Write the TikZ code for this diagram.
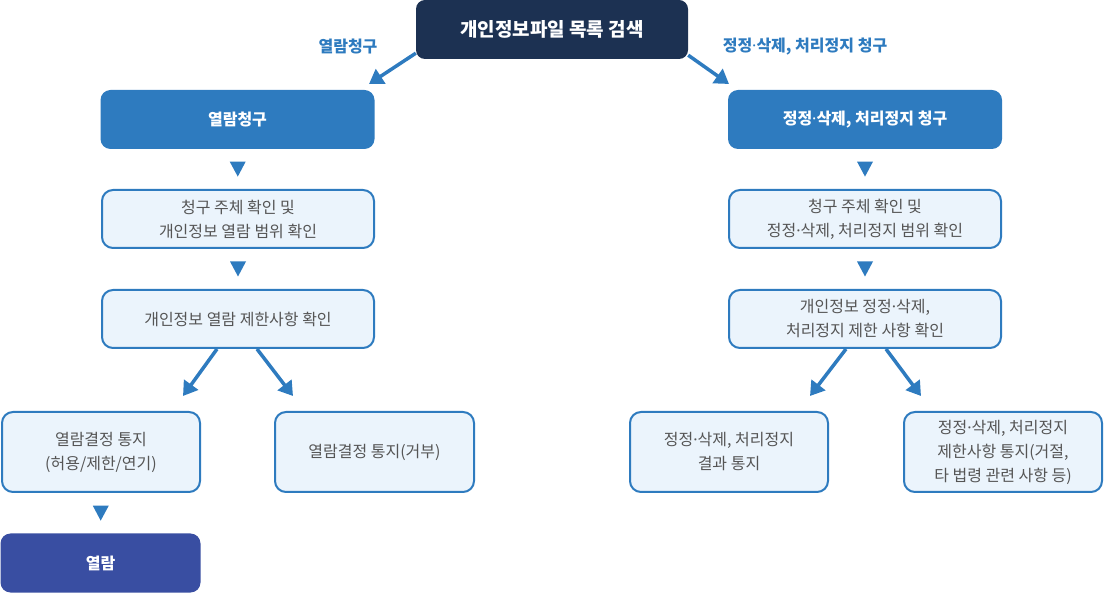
\documentclass[tikz,border=0pt]{standalone}
\usepackage{fontspec}
\setmainfont{Noto Sans CJK KR}
\newfontfamily\latinfont{Noto Sans}
\newcommand{\middot}{{\latinfont ·}}
\usetikzlibrary{arrows.meta,decorations.markings}
\definecolor{navy}{HTML}{1C3152}
\definecolor{stepblue}{HTML}{2E7BBF}
\definecolor{paleblue}{HTML}{EBF4FC}
\definecolor{deepblue}{HTML}{394EA2}
\definecolor{textgray}{HTML}{555555}
\begin{document}
\begin{tikzpicture}[x=1pt,y=-1pt,
    topbox/.style={fill=navy,text=white,rounded corners=9pt,minimum width=272pt,minimum height=59pt,
      font=\fontsize{19}{22}\selectfont\bfseries},
    headbox/.style={fill=stepblue,text=white,rounded corners=10pt,minimum width=274pt,minimum height=59pt,
      font=\fontsize{16}{20}\selectfont\bfseries},
    stepbox/.style={draw=stepblue,line width=2pt,fill=paleblue,text=textgray,rounded corners=11pt,
      minimum height=58pt,align=center,font=\fontsize{16}{24}\selectfont},
    endbox/.style={fill=deepblue,text=white,rounded corners=10pt,minimum width=200pt,minimum height=59pt,
      font=\fontsize{16}{20}\selectfont\bfseries},
    sidelabel/.style={text=stepblue,font=\fontsize{16}{18}\selectfont\bfseries},
    bigarrow/.style={draw=stepblue,line width=3.5pt,-{Triangle[width=17pt,length=14pt]}},
    drop/.style={decoration={markings,mark=at position 0.5 with {\fill[stepblue] (7.5,0) -- (-7.5,8) -- (-7.5,-8) -- cycle;}},
      postaction={decorate}}]
  \useasboundingbox (0,0) rectangle (1104,593);
  % top
  \node[topbox] (search) at (552,29.5) {개인정보파일 목록 검색};
  \node[sidelabel] (viewlbl) at (348,47) {열람청구};
  \node[sidelabel] (editlbl) at (805,47) {정정\middot 삭제, 처리정지 청구};
  % left column
  \node[headbox] (view) at (237.5,119.5) {열람청구};
  \node[stepbox,minimum width=272pt] (vcheck) at (238,219) {청구 주체 확인 및\\개인정보 열람 범위 확인};
  \node[stepbox,minimum width=272pt] (vlimit) at (238,319) {개인정보 열람 제한사항 확인};
  \node[stepbox,minimum width=198pt,minimum height=80pt] (vok) at (101,452) {열람결정 통지\\(허용/제한/연기)};
  \node[stepbox,minimum width=199pt,minimum height=80pt] (vno) at (374.5,452) {열람결정 통지(거부)};
  \node[endbox] (read) at (100.5,563) {열람};
  % right column
  \node[headbox] (edit) at (865,119.5) {정정\middot 삭제, 처리정지 청구};
  \node[stepbox,minimum width=272pt] (echeck) at (865,219) {청구 주체 확인 및\\정정\middot 삭제, 처리정지 범위 확인};
  \node[stepbox,minimum width=272pt] (elimit) at (865,319) {개인정보 정정\middot 삭제,\\처리정지 제한 사항 확인};
  \node[stepbox,minimum width=198pt,minimum height=80pt] (edone) at (729,452) {정정\middot 삭제, 처리정지\\결과 통지};
  \node[stepbox,minimum width=198pt,minimum height=80pt] (erefuse) at (1003,452) {정정\middot 삭제, 처리정지\\제한사항 통지(거절,\\타 법령 관련 사항 등)};
  % free arrow ends
  \coordinate (viewtip) at (369,84);
  \coordinate (edittip) at (729,84);
  \coordinate (voktip) at (183,396);
  \coordinate (vnotip) at (293,396);
  \coordinate (edonetip) at (810,396);
  \coordinate (erefusetip) at (921,396);
  \begin{scope}[bigarrow]
    \draw (search.south west) ++(0,-6) -- (viewtip);
    \draw (search.south east) ++(0,-4) -- (edittip);
    \draw ([xshift=-21pt]vlimit.south) -- (voktip);
    \draw ([xshift=19pt]vlimit.south) -- (vnotip);
    \draw ([xshift=-19pt]elimit.south) -- (edonetip);
    \draw ([xshift=21pt]elimit.south) -- (erefusetip);
  \end{scope}
  \path[drop] (view) -- (vcheck);
  \path[drop] (vcheck) -- (vlimit);
  \path[drop] (vok) -- (read);
  \path[drop] (edit) -- (echeck);
  \path[drop] (echeck) -- (elimit);
\end{tikzpicture}
\end{document}
